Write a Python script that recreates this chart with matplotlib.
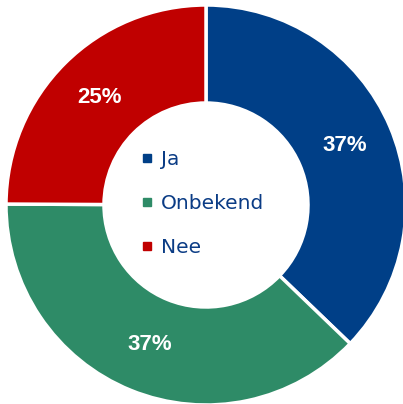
import matplotlib
matplotlib.use('Agg')
import matplotlib.pyplot as plt
from matplotlib.lines import Line2D
import numpy as np

labels = ['Ja', 'Onbekend', 'Nee']
values = [36.7, 37.4, 24.6]
colors = ['#003F87', '#2E8B67', '#C00000']

fig = plt.figure(figsize=(4.03, 4.04), dpi=100)
ax = fig.add_axes([0, 0, 1, 1])

wedges, _ = ax.pie(values, colors=colors, startangle=90, counterclock=False,
                   radius=1.0,
                   wedgeprops=dict(width=0.49, edgecolor='white', linewidth=2.5))

# percentage labels inside the ring
total = sum(values)
start = 90.0
for v in values:
    span = v / total * 360
    mid = np.deg2rad(start - span / 2)
    ax.text(0.755 * np.cos(mid), 0.755 * np.sin(mid), f'{v:.0f}%',
            ha='center', va='center', color='white', fontsize=16,
            fontweight='bold', family='Liberation Sans')
    start -= span

handles = [Line2D([], [], marker='s', linestyle='none', markersize=5.5,
                  markerfacecolor=c, markeredgecolor=c) for c in colors]
ax.legend(handles, labels, loc='center', frameon=False, fontsize=14.5,
          labelcolor='#0B3C85', handletextpad=0.3, labelspacing=1.25,
          handlelength=0.8, bbox_to_anchor=(0.5, 0.496))

ax.set_xlim(-206 / 200, (403 - 206) / 200)
ax.set_ylim(-199 / 200, 205 / 200)
ax.set_aspect('auto')
ax.axis('off')

fig.savefig('out.png', dpi=100)
